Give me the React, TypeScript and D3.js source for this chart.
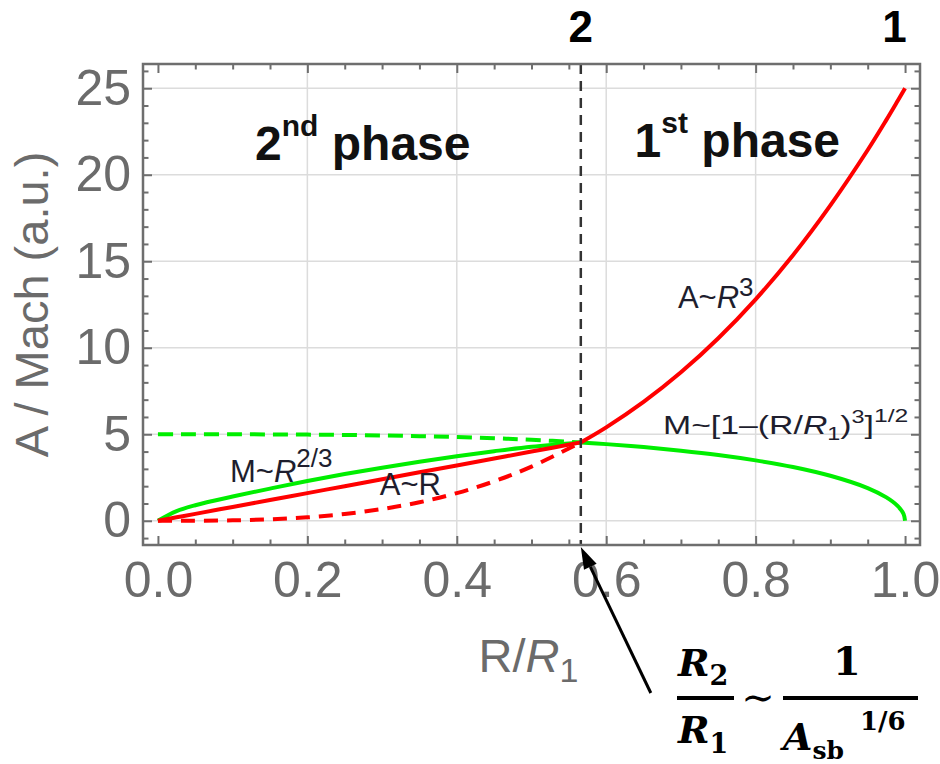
import React, { useEffect, useRef } from "react";
import * as d3 from "d3";

// values
const R2 = 0.566;

const xMajor = [0, 0.2, 0.4, 0.6, 0.8, 1.0];
const yMajor = [0, 5, 10, 15, 20, 25];
const xGrid = [0.2, 0.4, 0.6, 0.8];

// 2nd phase (R < R2)
const innerR = [0, 0.025, 0.05, 0.1, 0.15, 0.2, 0.25, 0.3, 0.35, 0.4, 0.45, 0.5, 0.566];
const areaLinear = [0, 0.2, 0.4, 0.8, 1.2, 1.6, 2.0, 2.4, 2.8, 3.2, 3.6, 4.0, 4.53];
const areaCubicDash = [0, 0, 0.003, 0.025, 0.084, 0.2, 0.39, 0.68, 1.07, 1.6, 2.28, 3.13, 4.53];
const machPower = [0, 0.56, 0.9, 1.4, 1.86, 2.3, 2.7, 3.07, 3.41, 3.73, 4.02, 4.28, 4.53];
const machDash = [5, 5, 5, 5, 4.99, 4.98, 4.96, 4.93, 4.89, 4.84, 4.77, 4.68, 4.53];

// 1st phase (R > R2)
const outerR = [0.566, 0.6, 0.65, 0.7, 0.75, 0.8, 0.85, 0.9, 0.95, 0.975, 0.99, 1.0];
const areaCubic = [4.53, 5.4, 6.87, 8.58, 10.55, 12.8, 15.35, 18.23, 21.43, 23.17, 24.26, 25];
const machOuterR = [0.566, 0.6, 0.65, 0.7, 0.75, 0.8, 0.85, 0.9, 0.95, 0.975, 0.99, 0.998, 1.0];
const machSqrt = [4.53, 4.43, 4.26, 4.05, 3.8, 3.49, 3.11, 2.6, 1.89, 1.35, 0.86, 0.39, 0];

const RED = "#ff0000";
const GREEN = "#00ee00";
const SANS = "'Liberation Sans', Arial, sans-serif";
const SERIF = "'DejaVu Serif', 'Liberation Serif', serif";

const App = () => {
  const svgRef = useRef<SVGSVGElement>(null);

  useEffect(() => {
    const svg = d3.select(svgRef.current);
    svg.selectAll("*").remove();

    const x = d3.scaleLinear().domain([-0.02, 1.02]).range([143, 920]);
    const y = d3.scaleLinear().domain([-1.4, 26.4]).range([545, 64]);
    const [x0, x1] = x.range();
    const [yb, yt] = y.range();

    svg.append("rect").attr("width", 940).attr("height", 764).attr("fill", "white");

    // grid
    const grid = svg.append("g").attr("stroke", "#dcdcdc").attr("stroke-width", 1.5);
    grid.selectAll(".gy").data(yMajor).join("line")
      .attr("x1", x0).attr("x2", x1)
      .attr("y1", (d) => y(d)).attr("y2", (d) => y(d));
    grid.selectAll(".gx").data(xGrid).join("line")
      .attr("x1", (d) => x(d)).attr("x2", (d) => x(d))
      .attr("y1", yb).attr("y2", yt);

    // curves
    const line = d3.line<[number, number]>()
      .x((d) => x(d[0]))
      .y((d) => y(d[1]))
      .curve(d3.curveCatmullRom.alpha(0.5));

    const series = [
      { r: innerR, v: machDash, color: GREEN, dash: "15 8" },
      { r: innerR, v: areaCubicDash, color: RED, dash: "14 9" },
      { r: innerR, v: machPower, color: GREEN, dash: null },
      { r: innerR, v: areaLinear, color: RED, dash: null },
      { r: machOuterR, v: machSqrt, color: GREEN, dash: null },
      { r: outerR, v: areaCubic, color: RED, dash: null },
    ];

    svg.append("g").selectAll("path").data(series).join("path")
      .attr("d", (s) => line(s.r.map((r, i) => [r, s.v[i]] as [number, number])))
      .attr("fill", "none")
      .attr("stroke", (s) => s.color)
      .attr("stroke-width", 4)
      .attr("stroke-dasharray", (s) => s.dash);

    // transition radius
    svg.append("line")
      .attr("x1", x(R2)).attr("x2", x(R2))
      .attr("y1", yt).attr("y2", yb)
      .attr("stroke", "#333").attr("stroke-width", 2.5)
      .attr("stroke-dasharray", "10 7");

    // frame
    svg.append("rect")
      .attr("x", x0).attr("y", yt)
      .attr("width", x1 - x0).attr("height", yb - yt)
      .attr("fill", "none").attr("stroke", "#6e6e6e").attr("stroke-width", 2.5);

    // ticks
    const xMinor = d3.range(0, 21).filter((i) => i % 4 !== 0).map((i) => i / 20);
    const yMinor = d3.range(-1, 27).filter((i) => i % 5 !== 0);

    const styleAxis = (g: any) => {
      g.select(".domain").remove();
      g.selectAll("line").attr("stroke", "#6e6e6e").attr("stroke-width", 2);
      g.selectAll("text")
        .attr("fill", "#6b6b6b")
        .attr("font-size", 50)
        .attr("font-family", SANS);
    };

    svg.append("g").attr("transform", `translate(0,${yb})`)
      .call(d3.axisBottom(x).tickValues(xMajor).tickSizeInner(-9).tickSizeOuter(0)
        .tickPadding(16).tickFormat(d3.format(".1f")))
      .call(styleAxis);
    svg.append("g").attr("transform", `translate(0,${yb})`)
      .call(d3.axisBottom(x).tickValues(xMinor).tickSizeInner(-5.5).tickSizeOuter(0).tickFormat(() => ""))
      .call(styleAxis);
    svg.append("g").attr("transform", `translate(0,${yt})`)
      .call(d3.axisTop(x).tickValues(xMajor).tickSizeInner(-9).tickSizeOuter(0).tickFormat(() => ""))
      .call(styleAxis);
    svg.append("g").attr("transform", `translate(0,${yt})`)
      .call(d3.axisTop(x).tickValues(xMinor).tickSizeInner(-5.5).tickSizeOuter(0).tickFormat(() => ""))
      .call(styleAxis);

    svg.append("g").attr("transform", `translate(${x0},0)`)
      .call(d3.axisLeft(y).tickValues(yMajor).tickSizeInner(-9).tickSizeOuter(0)
        .tickPadding(12).tickFormat(d3.format("d")))
      .call(styleAxis);
    svg.append("g").attr("transform", `translate(${x0},0)`)
      .call(d3.axisLeft(y).tickValues(yMinor).tickSizeInner(-5.5).tickSizeOuter(0).tickFormat(() => ""))
      .call(styleAxis);
    svg.append("g").attr("transform", `translate(${x1},0)`)
      .call(d3.axisRight(y).tickValues(yMajor).tickSizeInner(-9).tickSizeOuter(0).tickFormat(() => ""))
      .call(styleAxis);
    svg.append("g").attr("transform", `translate(${x1},0)`)
      .call(d3.axisRight(y).tickValues(yMinor).tickSizeInner(-5.5).tickSizeOuter(0).tickFormat(() => ""))
      .call(styleAxis);

    // axis titles
    svg.append("text")
      .attr("transform", `translate(48,${(yt + yb) / 2}) rotate(-90)`)
      .attr("text-anchor", "middle")
      .attr("font-family", SANS).attr("font-size", 47).attr("fill", "#6b6b6b")
      .text("A / Mach (a.u.)");

    const xt = svg.append("text")
      .attr("x", (x0 + x1) / 2 - 3).attr("y", 672)
      .attr("text-anchor", "middle")
      .attr("font-family", SANS).attr("font-size", 47).attr("fill", "#6b6b6b");
    xt.append("tspan").text("R/");
    xt.append("tspan").attr("font-style", "italic").text("R");
    xt.append("tspan").attr("font-size", 34).attr("dy", 10).text("1");

    // phase labels
    const phase = (r: number, v: number, num: string, sup: string) => {
      const t = svg.append("text")
        .attr("x", x(r)).attr("y", y(v))
        .attr("font-family", SANS).attr("font-weight", "bold")
        .attr("font-size", 48).attr("fill", "#111");
      t.append("tspan").text(num);
      t.append("tspan").attr("font-size", 30).attr("dy", -24).text(sup);
      t.append("tspan").attr("dy", 24).text(" phase");
    };
    phase(0.13, 20.85, "2", "nd");
    phase(0.638, 21.03, "1", "st");

    svg.append("text")
      .attr("x", x(R2)).attr("y", 42).attr("text-anchor", "middle")
      .attr("font-family", SANS).attr("font-weight", "bold").attr("font-size", 44)
      .text("2");
    svg.append("text")
      .attr("x", x(0.986)).attr("y", 42).attr("text-anchor", "middle")
      .attr("font-family", SANS).attr("font-weight", "bold").attr("font-size", 44)
      .text("1");

    // curve labels
    const label = (r: number, v: number, size: number) =>
      svg.append("text")
        .attr("x", x(r)).attr("y", y(v))
        .attr("font-family", SANS).attr("font-size", size).attr("fill", "#1e1e2e");

    const m1 = label(0.0965, 2.24, 31);
    m1.append("tspan").text("M~");
    m1.append("tspan").attr("font-style", "italic").text("R");
    m1.append("tspan").attr("font-size", 26).attr("dy", -15).text("2/3");

    const a1 = label(0.297, 1.49, 31);
    a1.append("tspan").text("A~R");

    const a3 = label(0.696, 12.3, 31);
    a3.append("tspan").text("A~");
    a3.append("tspan").attr("font-style", "italic").text("R");
    a3.append("tspan").attr("font-size", 26).attr("dy", -12).text("3");

    const m3 = svg.append("text")
      .attr("transform", `translate(${x(0.676)},${y(5.02)}) scale(1.3,1)`)
      .attr("font-family", SANS).attr("font-size", 26).attr("fill", "#1e1e2e");
    m3.append("tspan").text("M~[1–(R/");
    m3.append("tspan").attr("font-style", "italic").text("R");
    m3.append("tspan").attr("font-size", 18).attr("dy", 6).text("1");
    m3.append("tspan").attr("dy", -6).text(")");
    m3.append("tspan").attr("font-size", 18).attr("dy", -11).text("3");
    m3.append("tspan").attr("dy", 11).text("]");
    m3.append("tspan").attr("font-size", 19).attr("dy", -12).text("1/2");

    // arrow to R2
    const tipX = x(R2);
    const tipY = yb + 2;
    const baseX = tipX + 70;
    const baseY = tipY + 146;
    const ang = Math.atan2(tipY - baseY, tipX - baseX);
    const hl = 22;
    const hw = 7;
    const bx = tipX - hl * Math.cos(ang);
    const by = tipY - hl * Math.sin(ang);
    svg.append("line")
      .attr("x1", baseX).attr("y1", baseY).attr("x2", bx).attr("y2", by)
      .attr("stroke", "black").attr("stroke-width", 3);
    svg.append("path")
      .attr("d", `M${tipX},${tipY}L${bx + hw * Math.sin(ang)},${by - hw * Math.cos(ang)}L${bx - hw * Math.sin(ang)},${by + hw * Math.cos(ang)}Z`)
      .attr("fill", "black");

    // R2/R1 ~ 1/A_sb^(1/6)
    const f = svg.append("g").attr("font-family", SERIF).attr("font-weight", "bold").attr("fill", "black");
    const num = f.append("text").attr("x", 678).attr("y", 676).attr("font-size", 38);
    num.append("tspan").attr("font-style", "italic").text("R");
    num.append("tspan").attr("font-size", 27).attr("dy", 9).text("2");
    f.append("line").attr("x1", 677).attr("x2", 734).attr("y1", 698).attr("y2", 698)
      .attr("stroke", "black").attr("stroke-width", 4);
    const den = f.append("text").attr("x", 678).attr("y", 743).attr("font-size", 38);
    den.append("tspan").attr("font-style", "italic").text("R");
    den.append("tspan").attr("font-size", 27).attr("dy", 10).text("1");
    f.append("text").attr("x", 758).attr("y", 711).attr("text-anchor", "middle")
      .attr("font-size", 40).attr("font-weight", "normal").text("∼");
    f.append("line").attr("x1", 783).attr("x2", 918).attr("y1", 698).attr("y2", 698)
      .attr("stroke", "black").attr("stroke-width", 4);
    f.append("text").attr("x", 847).attr("y", 675).attr("text-anchor", "middle")
      .attr("font-size", 40).text("1");
    const a = f.append("text").attr("x", 783).attr("y", 750).attr("font-size", 38);
    a.append("tspan").attr("font-style", "italic").text("A");
    a.append("tspan").attr("font-size", 25).attr("dy", 9).text("sb");
    f.append("text").attr("x", 860).attr("y", 730).attr("font-size", 26).text("1/6");
  }, []);

  return (
    <svg
      ref={svgRef}
      width={940}
      height={764}
      style={{ position: "absolute", left: 0, top: 0, display: "block" }}
    />
  );
};

export default App;
